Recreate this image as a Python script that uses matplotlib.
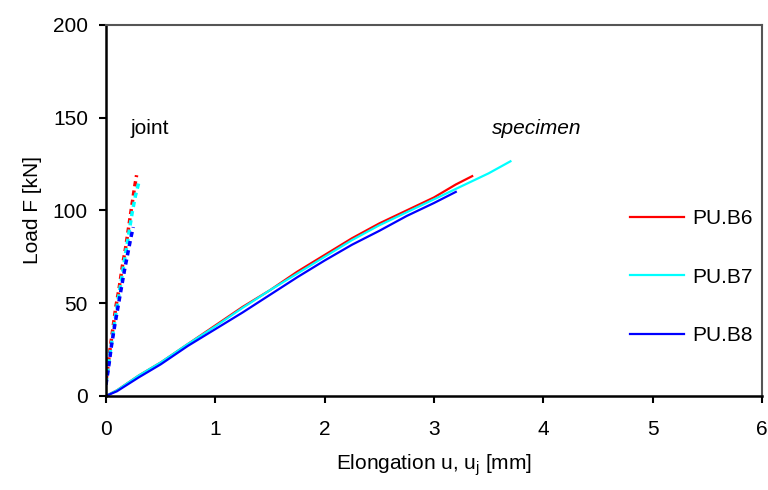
import matplotlib.pyplot as plt

plt.rcParams['font.family'] = ['Liberation Sans Narrow', 'Liberation Sans', 'DejaVu Sans']

# specimen elongation u [mm] vs load [kN]
spec_b6_u = [0, 0.1, 0.3, 0.5, 0.75, 1.0, 1.25, 1.5, 1.75, 2.0, 2.25, 2.5, 2.75, 3.0, 3.2, 3.35]
spec_b6_F = [0, 3, 11, 18, 28, 38, 48, 57, 67, 76, 85, 93, 100, 107, 114, 118.5]
spec_b7_u = [0, 0.1, 0.3, 0.5, 0.75, 1.0, 1.25, 1.5, 1.75, 2.0, 2.25, 2.5, 2.75, 3.0, 3.25, 3.5, 3.7]
spec_b7_F = [0, 3, 11, 18, 28, 37.5, 47.5, 57, 66, 75, 84, 92, 99, 106, 113, 120, 126.5]
spec_b8_u = [0, 0.1, 0.3, 0.5, 0.75, 1.0, 1.25, 1.5, 1.75, 2.0, 2.25, 2.5, 2.75, 3.0, 3.2]
spec_b8_F = [0, 2.5, 10, 17, 27, 36, 45, 54.5, 64, 73, 81.5, 89, 97, 104, 110]

# joint elongation u_j [mm] vs load [kN]
joint_b6_u = [0, 0.01, 0.03, 0.06, 0.09, 0.12, 0.15, 0.18, 0.21, 0.24, 0.26, 0.28]
joint_b6_F = [8, 12, 22, 35, 48, 58, 70, 80, 92, 104, 112, 119]
joint_b7_u = [0, 0.01, 0.03, 0.06, 0.09, 0.12, 0.15, 0.18, 0.21, 0.24, 0.27, 0.30]
joint_b7_F = [7, 11, 20, 32, 44, 55, 66, 77, 88, 99, 108, 115]
joint_b8_u = [0, 0.01, 0.03, 0.05, 0.08, 0.11, 0.14, 0.17, 0.20, 0.23, 0.25]
joint_b8_F = [6, 10, 18, 27, 38, 48, 58, 68, 77, 86, 91]

names = ['PU.B6', 'PU.B7', 'PU.B8']
colors = ['#ff0000', '#00ffff', '#0000ff']

fig = plt.figure(figsize=(7.68, 4.9), dpi=100)
ax = fig.add_axes([0.138, 0.192, 0.854, 0.757])

spec = [(spec_b6_u, spec_b6_F), (spec_b7_u, spec_b7_F), (spec_b8_u, spec_b8_F)]
joint = [(joint_b6_u, joint_b6_F), (joint_b7_u, joint_b7_F), (joint_b8_u, joint_b8_F)]

for (u, F), name, c in zip(spec, names, colors):
    ax.plot(u, F, color=c, lw=1.6, label=name)
for (u, F), c in zip(joint, colors):
    ax.plot(u, F, color=c, lw=2.5, linestyle=(0, (1.5, 1.2)))

ax.text(0.22, 144, 'joint', fontsize=15, ha='left', va='center')
ax.text(3.53, 144, 'specimen', fontsize=15, style='italic', ha='left', va='center')

ax.set_xlim(0, 6)
ax.set_ylim(0, 200)
ax.set_xticks(range(0, 7))
ax.set_yticks(range(0, 201, 50))
ax.tick_params(labelsize=15, length=5, width=1.5, direction='out', pad=8)
ax.tick_params(axis='x', pad=12)
ax.set_xlabel('Elongation u, u$_\\mathregular{j}$ [mm]', fontsize=15, labelpad=10)
ax.set_ylabel('Load F [kN]', fontsize=15, labelpad=8)

for s in ['left', 'bottom']:
    ax.spines[s].set_linewidth(1.8)
    ax.spines[s].set_color('black')
for s in ['top', 'right']:
    ax.spines[s].set_linewidth(1.5)
    ax.spines[s].set_color('#555555')

ax.legend(loc='center left', bbox_to_anchor=(0.77, 0.32), frameon=False,
          fontsize=15, labelspacing=1.9, handlelength=2.6, handletextpad=0.4)

fig.savefig('out.png', dpi=100)
